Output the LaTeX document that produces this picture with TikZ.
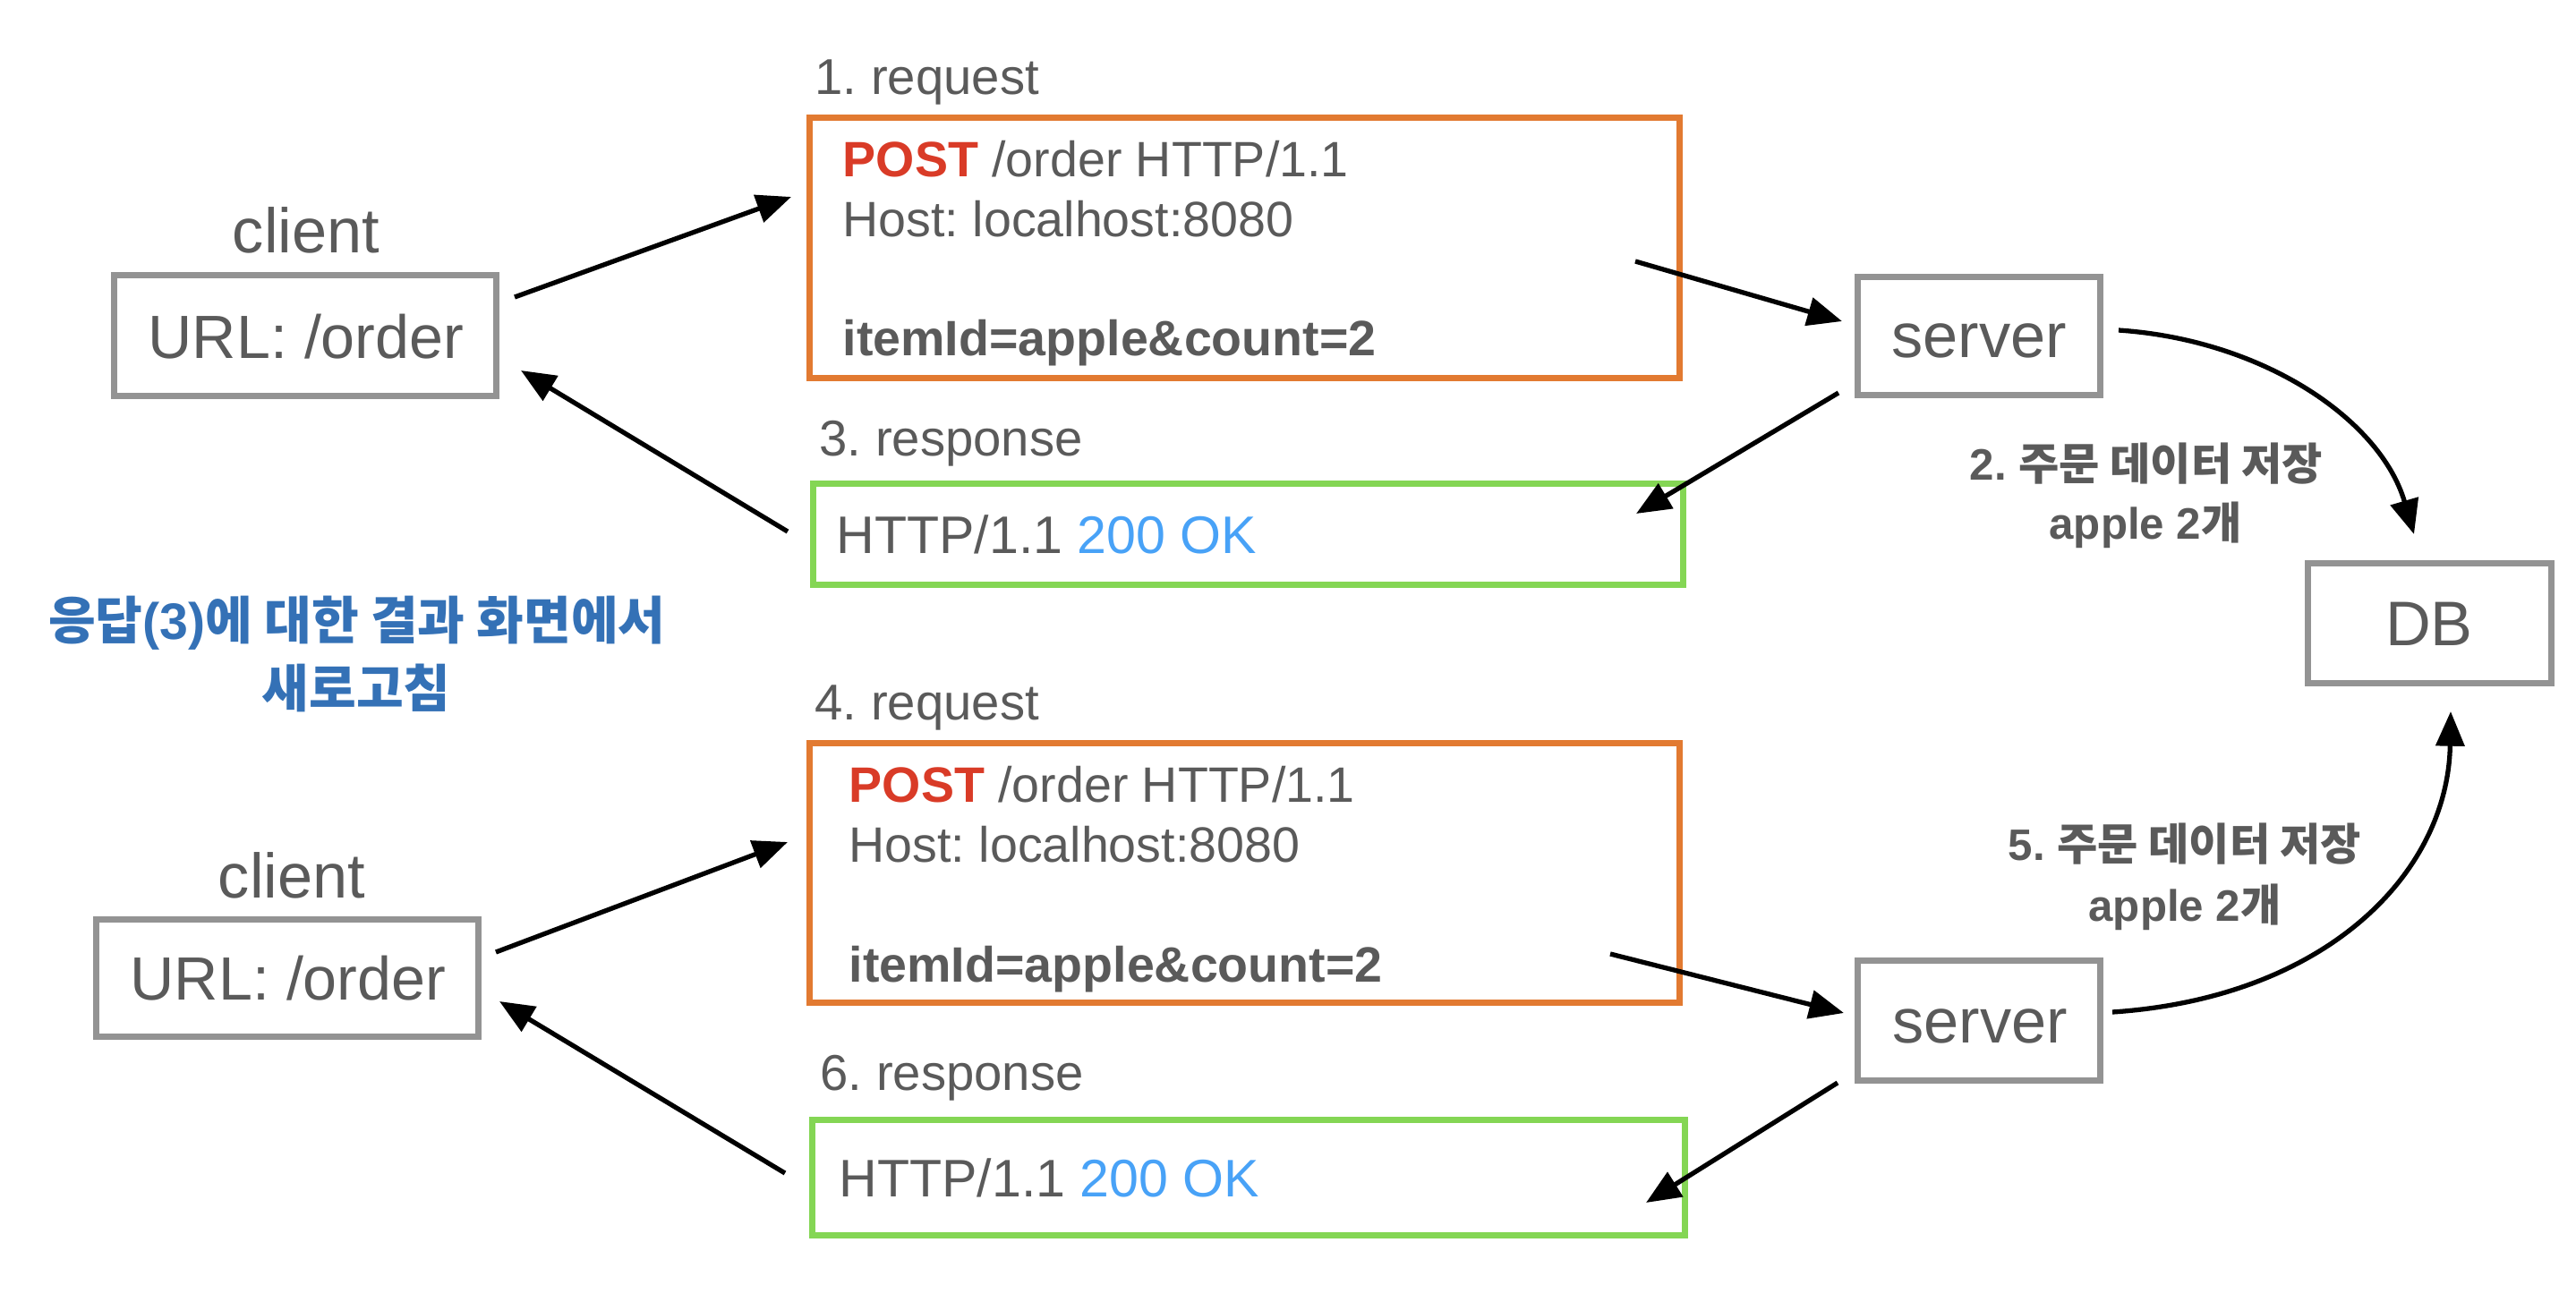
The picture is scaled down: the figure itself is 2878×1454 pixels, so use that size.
\documentclass[tikz,border=0pt]{standalone}
\usepackage{fontspec}
\setmainfont{Liberation Sans}
\newfontfamily\krb{Noto Sans CJK KR Bold}
\usetikzlibrary{arrows.meta}
\frenchspacing
\definecolor{txt}{HTML}{5A5A5A}
\definecolor{boxgray}{HTML}{939393}
\definecolor{reqorange}{HTML}{E27A31}
\definecolor{respgreen}{HTML}{84D654}
\definecolor{postred}{HTML}{D93B27}
\definecolor{okblue}{HTML}{48A2F7}
\definecolor{noteblue}{HTML}{3471B6}
\begin{document}
\frenchspacing
\begin{tikzpicture}[x=0.01cm,y=-0.01cm,
  graybox/.style={draw=boxgray,line width=2pt,inner sep=0pt},
  reqbox/.style={draw=reqorange,line width=2pt,inner sep=0pt,minimum width=9.71cm,minimum height=2.90cm},
  respbox/.style={draw=respgreen,line width=2pt,inner sep=0pt},
  big/.style={text=txt,inner sep=0pt,font=\fontsize{20}{24}\selectfont},
  url/.style={text=txt,inner sep=0pt,font=\fontsize{19.4}{24}\selectfont},
  mid/.style={text=txt,inner sep=0pt,font=\fontsize{16}{19}\selectfont},
  reqtxt/.style={text=txt,inner sep=0pt,font=\fontsize{15.8}{19}\selectfont},
  resptxt/.style={text=txt,inner sep=0pt,font=\fontsize{16.8}{20}\selectfont},
  krlabel/.style={text=txt,inner sep=0pt,font=\fontsize{14}{17}\selectfont\bfseries},
  note/.style={text=noteblue,inner sep=0pt,font=\fontsize{16.3}{19}\selectfont\bfseries},
  flow/.style={draw=black,line width=1.5pt,-{Triangle[length=11pt,width=9pt]}}]
\useasboundingbox (0,0) rectangle (2878,1454);

% clients
\node[graybox,minimum width=4.26cm,minimum height=1.34cm] (c1) at (341,375) {};
\node[big,anchor=base] (c1t) at (342,282) {client};
\node[url,anchor=base] (c1u) at (342,400) {URL: /order};
\node[graybox,minimum width=4.26cm,minimum height=1.30cm] (c2) at (321,1093) {};
\node[big,anchor=base] (c2t) at (326,1003) {client};
\node[url,anchor=base] (c2u) at (322,1117) {URL: /order};

% servers and DB
\node[graybox,minimum width=2.70cm,minimum height=1.31cm] (s1) at (2211,375.5) {};
\node[big,anchor=base] (s1t) at (2211,399) {server};
\node[graybox,minimum width=2.70cm,minimum height=1.33cm] (s2) at (2211,1140.5) {};
\node[big,anchor=base] (s2t) at (2212,1165) {server};
\node[graybox,minimum width=2.71cm,minimum height=1.33cm] (db) at (2714.5,696.5) {};
\node[big,anchor=base] (dbt) at (2714,721) {DB};

% request / response 1
\node[mid,anchor=base west] (r1l) at (910,105) {1. request};
\node[reqbox] (req1) at (1390.5,277) {};
\node[reqtxt,anchor=base west] (req1a) at (941,197) {{\bfseries\color{postred}POST} /order HTTP/1.1};
\node[reqtxt,anchor=base west] (req1b) at (941,264) {Host: localhost:8080};
\node[reqtxt,anchor=base west] (req1c) at (941,397) {\bfseries itemId=apple\&count=2};
\node[mid,anchor=base west] (p1l) at (915,509) {3. response};
\node[respbox,minimum width=9.71cm,minimum height=1.12cm] (resp1) at (1394.5,597) {};
\node[resptxt,anchor=base west] (resp1t) at (934,618) {HTTP/1.1 {\color{okblue}200 OK}};

% request / response 2
\node[mid,anchor=base west] (r2l) at (910,804) {4. request};
\node[reqbox,minimum height=2.89cm] (req2) at (1390.5,975.5) {};
\node[reqtxt,anchor=base west] (req2a) at (948,896) {{\bfseries\color{postred}POST} /order HTTP/1.1};
\node[reqtxt,anchor=base west] (req2b) at (948,963) {Host: localhost:8080};
\node[reqtxt,anchor=base west] (req2c) at (948,1097) {\bfseries itemId=apple\&count=2};
\node[mid,anchor=base west] (p2l) at (916,1218) {6. response};
\node[respbox,minimum width=9.74cm,minimum height=1.28cm] (resp2) at (1395,1316) {};
\node[resptxt,anchor=base west] (resp2t) at (937,1337) {HTTP/1.1 {\color{okblue}200 OK}};

% labels
\node[krlabel,anchor=base] (k2a) at (2398,536) {2. {\krb 주문 데이터 저장}};
\node[krlabel,anchor=base] (k2b) at (2397,602) {apple 2{\krb 개}};
\node[krlabel,anchor=base] (k5a) at (2441,961) {5. {\krb 주문 데이터 저장}};
\node[krlabel,anchor=base] (k5b) at (2441,1029) {apple 2{\krb 개}};
\node[note,anchor=base] (n1) at (399,714) {{\krb 응답}(3){\krb 에 대한 결과 화면에서}};
\node[note,anchor=base] (n2) at (398,790) {{\krb 새로고침}};

% arrow end points
\coordinate (a1s) at (575,332);  \coordinate (a1e) at (884,220);
\coordinate (a2s) at (880,594);  \coordinate (a2e) at (582,414);
\coordinate (a3s) at (1827,292); \coordinate (a3e) at (2058,359);
\coordinate (a4s) at (2054,439); \coordinate (a4e) at (1828,574);
\coordinate (a5s) at (2367,369); \coordinate (a5e) at (2697,597);
\coordinate (a6s) at (554,1064); \coordinate (a6e) at (880,941);
\coordinate (a7s) at (877,1311); \coordinate (a7e) at (558,1119);
\coordinate (a8s) at (1799,1066); \coordinate (a8e) at (2060,1132);
\coordinate (a9s) at (2053,1210); \coordinate (a9e) at (1839,1344);
\coordinate (a10s) at (2360,1131); \coordinate (a10e) at (2738,795);

\draw[flow] (a1s) -- (a1e);
\draw[flow] (a2s) -- (a2e);
\draw[flow] (a3s) -- (a3e);
\draw[flow] (a4s) -- (a4e);
\draw[flow] (a5s) .. controls (2530,380) and (2660,470) .. (a5e);
\draw[flow] (a6s) -- (a6e);
\draw[flow] (a7s) -- (a7e);
\draw[flow] (a8s) -- (a8e);
\draw[flow] (a9s) -- (a9e);
\draw[flow] (a10s) .. controls (2600,1115) and (2735,975) .. (a10e);
\end{tikzpicture}
\end{document}
